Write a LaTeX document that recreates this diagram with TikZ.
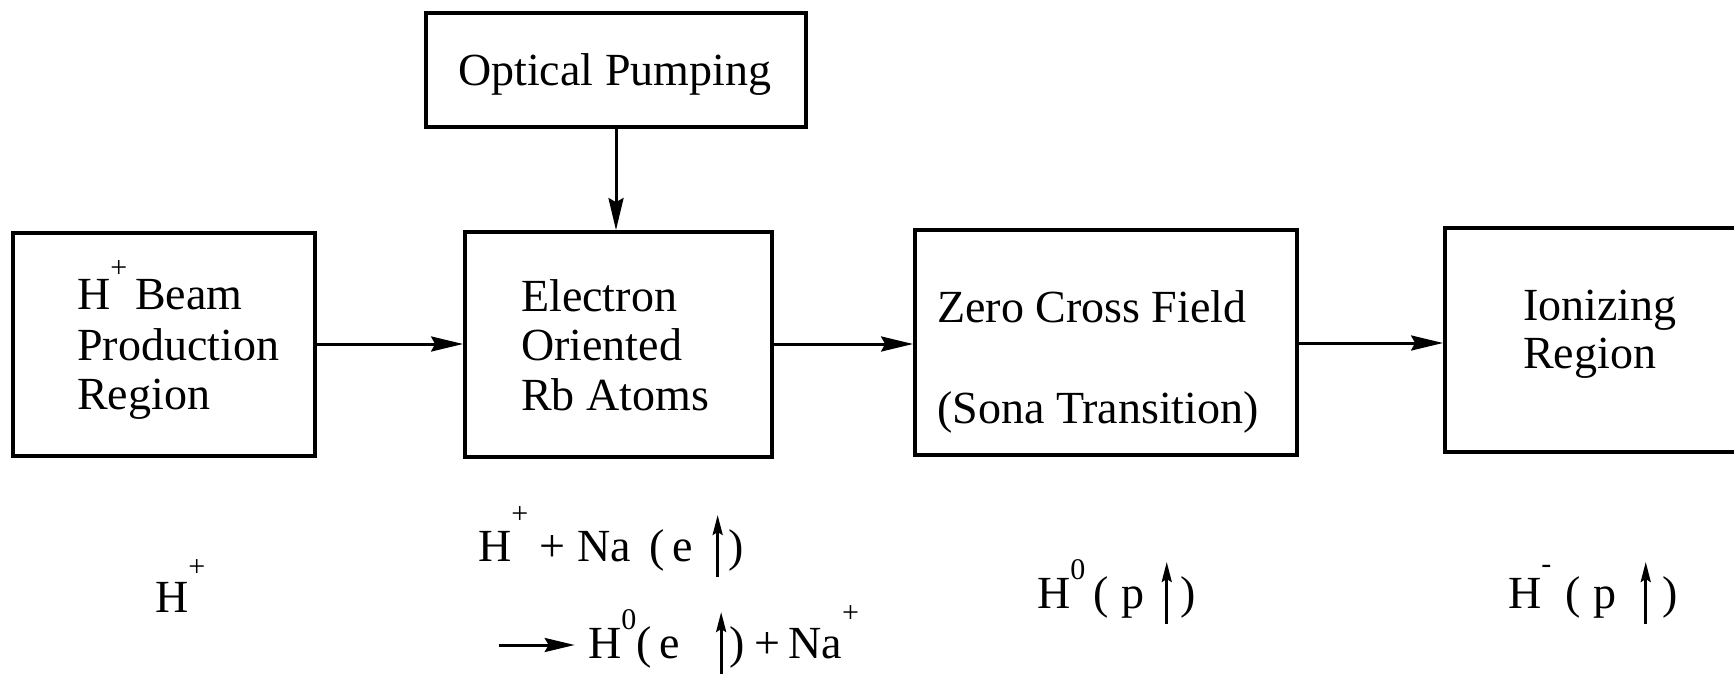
\documentclass[tikz,border=0pt]{standalone}
\usepackage{fontspec}
\setmainfont{Liberation Serif}
\usetikzlibrary{arrows.meta}
\newcommand\sups[2][32pt]{\raisebox{#1}{\fontsize{30}{30}\selectfont #2}}
\newcommand\spinup{\tikz[baseline=0pt,x=1pt,y=1pt]\draw[line width=2.8pt,-{Stealth[length=20pt,width=10pt,inset=3pt]}](0,-16)--(0,46);}
\newcommand\rarr{\tikz[baseline=0pt,x=1pt,y=1pt]\draw[line width=3pt,-{Stealth[length=30pt,width=14pt,inset=4pt]}](0,13)--(76,13);}
\begin{document}
\begin{tikzpicture}[x=1pt,y=-1pt,
  box/.style={draw,line width=3.8pt,inner sep=0pt},
  txt/.style={anchor=base west,inner sep=0pt,font=\fontsize{46}{50}\selectfont},
  conn/.style={line width=3pt,-{Stealth[length=32pt,width=15pt,inset=4pt]}}]
\useasboundingbox (0,0) rectangle (1734,676);
% boxes
\node[box,minimum width=380pt,minimum height=114pt] (op) at (616,70) {};
\node[box,minimum width=302pt,minimum height=223pt] (b1) at (164,344.5) {};
\node[box,minimum width=307pt,minimum height=225pt] (b2) at (618.5,344.5) {};
\node[box,minimum width=382pt,minimum height=225pt] (b3) at (1106,342.5) {};
\node[box,minimum width=325pt,minimum height=224pt] (b4) at (1607.5,340) {};
% box texts
\node[txt] (op1) at (458,86) {Optical Pumping};
\node[txt] (t11) at (77,309) {H\sups{+}\,Beam};
\node[txt] (t12) at (77,360) {Production};
\node[txt] (t13) at (77,409) {Region};
\node[txt] (t21) at (521,311) {Electron};
\node[txt] (t22) at (521,360) {Oriented};
\node[txt] (t23) at (521,410) {Rb Atoms};
\node[txt] (t31) at (937,322) {Zero Cross Field};
\node[txt] (t32) at (937,423) {(Sona Transition)};
\node[txt] (t41) at (1523,320) {Ionizing};
\node[txt] (t42) at (1523,368) {Region};
% connectors
\draw[conn] (op.south) -- (op.south |- b2.north);
\draw[conn] (b1.east |- 0,344) -- (b2.west |- 0,344);
\draw[conn] (b2.east |- 0,344) -- (b3.west |- 0,344);
\draw[conn] (b3.east |- 0,343) -- (b4.west |- 0,343);
% lower labels
\node[txt] (l1) at (155,612) {H\sups[36pt]{+}};
\node[txt] (l2a) at (478,561) {H\sups[38pt]{+}\ + Na\hspace{19pt}(\hspace{7pt}e\hspace{20pt}\spinup\hspace{6pt})};
\node[txt] (l2b) at (497,658) {\rarr\hspace{12pt}H\sups[29pt]{0}(\hspace{8pt}e\hspace{36pt}\spinup\hspace{3pt})\hspace{10pt}+\hspace{8pt}Na\sups[36pt]{+}};
\node[txt] (l3) at (1037,608) {H\sups[29pt]{0}\hspace{8pt}(\hspace{13pt}p\hspace{17pt}\spinup\hspace{9pt})};
\node[txt] (l4) at (1508,608) {H\sups[35pt]{-}\hspace{14pt}(\hspace{13pt}p\hspace{24pt}\spinup\hspace{12pt})};
\end{tikzpicture}
\end{document}
